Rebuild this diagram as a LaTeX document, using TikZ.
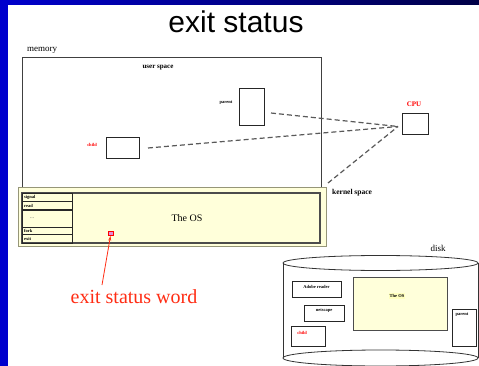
\documentclass[tikz,border=0pt]{standalone}
\usepackage{fontspec}
\setmainfont{Liberation Serif}
\newfontfamily\titlefont{Liberation Sans}
\usetikzlibrary{arrows.meta}

\definecolor{slideblue}{RGB}{0,0,205}
\definecolor{slidenavy}{RGB}{0,0,70}
\definecolor{osyellow}{RGB}{255,255,218}
\definecolor{kernelrim}{RGB}{150,150,120}
\definecolor{wordred}{RGB}{255,45,20}

\tikzset{
  box/.style={draw=black!85, line width=0.9pt, fill=white, inner sep=0pt},
  tiny/.style={font=\fontsize{4.5}{5}\selectfont\bfseries, inner sep=0pt},
  small/.style={font=\fontsize{9}{10}\selectfont, inner sep=0pt},
  dashline/.style={draw=black!65, line width=1.2pt, dash pattern=on 5pt off 3pt},
  tablerow/.style={draw=black!85, line width=0.8pt, inner sep=0pt, minimum width=50pt}
}

\begin{document}
\begin{tikzpicture}[x=1pt,y=-1pt]
\useasboundingbox (0,0) rectangle (479,366);
% slide frame
\fill[white] (0,0) rectangle (479,366);
\shade[left color=slideblue, right color=slidenavy] (0,0) rectangle (479,5);
\fill[slideblue] (0,0) rectangle (8,366);

\node[font=\titlefont\fontsize{30}{32}\selectfont] (title) at (236,22) {exit status};

% memory
\node[small, anchor=west] (memlbl) at (27,50) {memory};
\node[box, draw=black!75, line width=1pt, minimum width=299pt, minimum height=135pt] (memory) at (171.5,125.5) {};
\node[font=\fontsize{7}{8}\selectfont\bfseries, inner sep=0pt] (userlbl) at (158,68) {user space};

% kernel part of memory
\node[draw=kernelrim, line width=1pt, fill=osyellow, inner sep=0pt,
      minimum width=308pt, minimum height=58pt] (kernel) at (172,217) {};
\node[draw=black!70, line width=1.2pt, inner sep=0pt,
      minimum width=298pt, minimum height=50pt] (kinner) at (171,218) {};
\node[tablerow, minimum height=8pt] (signal) at (47,197.5) {};
\node[tablerow, minimum height=8pt] (read) at (47,205.5) {};
\node[tablerow, minimum height=17pt] (dots) at (47,218.5) {};
\node[tablerow, minimum height=7pt] (fork) at (47,230.5) {};
\node[tablerow, minimum height=9pt] (exit) at (47,238.5) {};
\node[tiny, anchor=west] at (24,197.5) {signal};
\node[tiny, anchor=west] at (24,205.5) {read};
\node[font=\fontsize{6}{7}\selectfont, inner sep=0pt, text=black!60] at (32,218) {...};
\node[tiny, anchor=west] at (24,230.5) {fork};
\node[tiny, anchor=west] at (24,238.5) {exit};
\node[font=\fontsize{10}{12}\selectfont] (os) at (187,218) {The OS};
\node[font=\fontsize{7.5}{8}\selectfont\bfseries, anchor=west, inner sep=0pt] (kernlbl) at (332,193) {kernel space};

% exit status word
\node[draw=red, line width=0.7pt, fill={rgb,255:red,225;green,140;blue,215}, inner sep=0pt,
      minimum width=5pt, minimum height=4pt] (word) at (110.5,233.5) {};
\node[text=wordred, font=\fontsize{20}{22}\selectfont] (wordlbl) at (134,297) {exit status word};
\coordinate (wordtail) at (102,285);
\draw[wordred, line width=0.8pt, -{Stealth[length=5pt,width=3pt]}] (wordtail) -- (word.south);

% processes and cpu
\node[box, minimum width=25pt, minimum height=37pt] (parent) at (251.5,106.5) {};
\node[tiny] at (226,103) {parent};
\node[box, minimum width=33pt, minimum height=21pt] (child) at (122.5,147.5) {};
\node[tiny, text=red] at (92,145) {child};
\node[box, minimum width=26pt, minimum height=21pt] (cpu) at (415,123.5) {};
\node[text=red, font=\fontsize{7}{8}\selectfont\bfseries, inner sep=0pt] at (414,104) {CPU};

\coordinate (cpuin) at (398,126.5);
\coordinate (fromparent) at (271,113);
\coordinate (fromchild) at (148,148);
\coordinate (fromkernel) at (328,183);
\draw[dashline] (fromparent) -- (cpuin);
\draw[dashline] (fromchild) -- (cpuin);
\draw[dashline] (fromkernel) -- (cpuin);

% disk
\node[small] (disklbl) at (438,248) {disk};
\fill[white] (283,263) rectangle (478,358);
\draw[black!80, line width=0.8pt] (283,263) -- (283,358);
\draw[black!80, line width=0.8pt] (478,263) -- (478,358);
\draw[black!80, line width=0.8pt, fill=white] (380.5,358) ellipse [x radius=97.5, y radius=8];
\draw[black!80, line width=0.8pt] (380.5,263) ellipse [x radius=97.5, y radius=7.5];

\node[box, minimum width=49pt, minimum height=16pt] (adobe) at (316.5,289) {};
\node[tiny] at (316.5,287) {Adobe reader};
\node[box, minimum width=40pt, minimum height=16pt] (netscape) at (324,313) {};
\node[tiny] at (324,311) {netscape};
\node[box, minimum width=34pt, minimum height=20pt] (dchild) at (308,336) {};
\node[tiny, text=red] at (302,333) {child};
\node[draw=black!70, line width=0.9pt, fill=osyellow, inner sep=0pt,
      minimum width=94pt, minimum height=53pt] (dos) at (400,303.5) {};
\node[tiny, fill={rgb,255:red,255;green,255;blue,190}, inner sep=1pt] at (397,296) {The OS};
\node[box, minimum width=24pt, minimum height=37pt] (dparent) at (464,327.5) {};
\node[tiny] at (462,315) {parent};
\end{tikzpicture}
\end{document}
